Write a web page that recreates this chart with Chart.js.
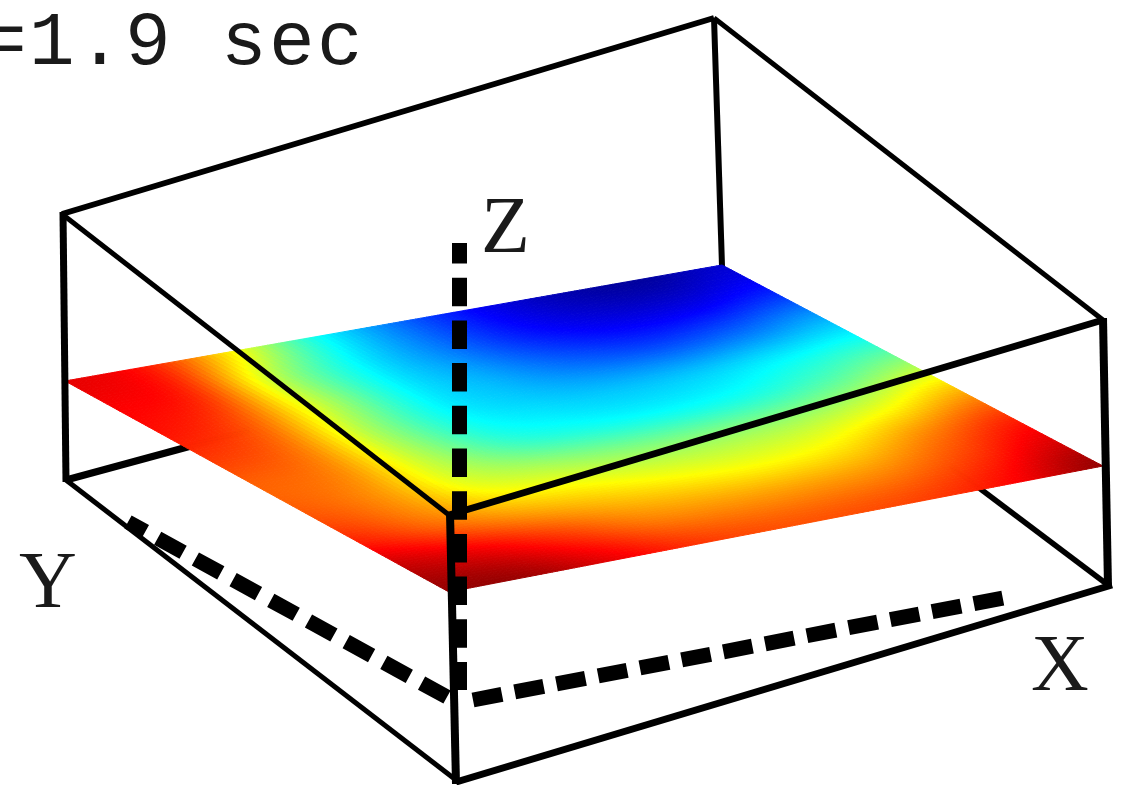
<!DOCTYPE html>
<html><head><meta charset="utf-8">
<script src="https://cdn.jsdelivr.net/npm/chart.js@4/dist/chart.umd.min.js"></script>
<style>html,body{margin:0;padding:0;background:#fff;overflow:hidden}canvas{display:block;filter:blur(0.4px)}</style>
</head><body><canvas id="c" width="1127" height="785"></canvas>
<script>
// Picture-plane endpoints of the box edges [x0,y0,x1,y1,width]
const backEdges = [[714,18,722,266,6],[66,480,250,430,7],[1108,585,950,466,5.5]];
const frontEdges = [
  [62,214,714,18,6],[714,18,1103,320,5],[62,214,449,515,5],[449,515,1103,320,7],
  [63,212,66,482,7],[1103,318,1108,587,8],[450,513,456,784,8],
  [66,480,456,780,5],[456,782,1112,585,7]
];
const axisZ = [459.5,243,459.5,690];
const axisX = [473,700,1003,598];
const axisY = [447,697,128,522];
const surfaceCorners = {L:[65,381],T:[722,265],R:[1103,466],B:[449,592]};
const labels = [
  {text:'=1.9 sec',x:-19,y:64,font:'76px "Liberation Mono"',spacing:'2.4px'},
  {text:'Z',x:481,y:252,font:'80px "Liberation Serif"',spacing:'0px'},
  {text:'Y',x:19,y:607,font:'80px "Liberation Serif"',spacing:'0px'},
  {text:'X',x:1031,y:690,font:'80px "Liberation Serif"',spacing:'0px'}
];
// Colour-mapped surface value: rows front edge -> back edge, columns B/L side -> R/T side
const row0 = [.98,.97,.90,.83,.80,.80,.82,.88,.98];
const row1 = [.93,.89,.82,.75,.73,.73,.75,.82,.91];
const row2 = [.84,.77,.70,.66,.63,.62,.65,.74,.83];
const row3 = [.79,.73,.60,.55,.52,.52,.54,.60,.70];
const row4 = [.78,.74,.56,.43,.39,.38,.40,.46,.54];
const row5 = [.82,.76,.54,.38,.33,.31,.32,.36,.40];
const row6 = [.86,.79,.56,.37,.29,.22,.19,.22,.28];
const row7 = [.88,.83,.56,.37,.25,.15,.10,.10,.15];
const row8 = [.90,.85,.64,.40,.24,.12,.05,.03,.08];
const grid = [row0,row1,row2,row3,row4,row5,row6,row7,row8];

function jet(v){
  const c=t=>Math.round(255*Math.max(0,Math.min(1,t)));
  return `rgb(${c(Math.min(4*v-1.5,-4*v+4.5))},${c(Math.min(4*v-.5,-4*v+3.5))},${c(Math.min(4*v+.5,-4*v+2.5))})`;
}
function place(s,t){
  const {L,T,R,B}=surfaceCorners;
  return {x:(1-s)*(1-t)*B[0]+s*(1-t)*R[0]+(1-s)*t*L[0]+s*t*T[0],
          y:(1-s)*(1-t)*B[1]+s*(1-t)*R[1]+(1-s)*t*L[1]+s*t*T[1]};
}
function cr(a,b,c,d,u){return .5*(2*b+(c-a)*u+(2*a-5*b+4*c-d)*u*u+(3*b-a-3*c+d)*u*u*u);}
function valueAt(s,t){
  const n=grid.length-1,m=grid[0].length-1,fi=Math.min(t*n,n-1e-6),fj=Math.min(s*m,m-1e-6);
  const i=Math.floor(fi),j=Math.floor(fj),u=fi-i,w=fj-j;
  const g=(a,b)=>grid[Math.max(0,Math.min(n,a))][Math.max(0,Math.min(m,b))];
  const r=[-1,0,1,2].map(k=>cr(g(i+k,j-1),g(i+k,j),g(i+k,j+1),g(i+k,j+2),w));
  return cr(r[0],r[1],r[2],r[3],u);
}
const seg=(e,w,extra={})=>Object.assign({type:'line',data:[{x:e[0],y:e[1]},{x:e[2],y:e[3]}],
  borderColor:'#000',borderWidth:w,pointRadius:0,tension:0,fill:false,borderCapStyle:'butt',borderJoinStyle:'miter'},extra);

const nodes=[];
grid.forEach((r,i)=>r.forEach((v,j)=>{const p=place(j/(r.length-1),i/(grid.length-1));nodes.push({x:p.x,y:p.y,v});}));

// Chart.js draws the first dataset on top, so the list runs front to back
const datasets=[
  seg(axisX,15,{borderDash:[29.5,13]}),
  seg(axisY,15,{borderDash:[29,14]}),
  seg(axisZ,15,{borderDash:[28.5,14.2],borderDashOffset:8}),
  ...frontEdges.map(e=>seg(e,e[4])),
  {type:'scatter',label:'surface',data:nodes,pointRadius:0,showLine:false},
  ...backEdges.map(e=>seg(e,e[4]))
];
const surfaceIndex=datasets.findIndex(d=>d.label==='surface');

const painter={id:'painter',
  afterDatasetDraw(chart,args){
    if(args.index!==surfaceIndex)return;
    const ctx=chart.ctx,X=chart.scales.x,Y=chart.scales.y,N=120;
    const pt=(s,t)=>{const p=place(s,t);return [X.getPixelForValue(p.x),Y.getPixelForValue(p.y)];};
    ctx.save();ctx.lineWidth=1;
    for(let i=0;i<N;i++)for(let j=0;j<N;j++){
      const s0=j/N,s1=(j+1)/N,t0=i/N,t1=(i+1)/N,col=jet(valueAt((s0+s1)/2,(t0+t1)/2));
      const a=pt(s0,t0),b=pt(s1,t0),c=pt(s1,t1),d=pt(s0,t1);
      ctx.fillStyle=col;ctx.strokeStyle=col;
      ctx.beginPath();ctx.moveTo(a[0],a[1]);ctx.lineTo(b[0],b[1]);ctx.lineTo(c[0],c[1]);ctx.lineTo(d[0],d[1]);ctx.closePath();
      ctx.fill();ctx.stroke();
    }
    ctx.restore();
  },
  afterDraw(chart){
    const ctx=chart.ctx,X=chart.scales.x,Y=chart.scales.y;
    ctx.save();ctx.fillStyle='#1a1a1a';ctx.textBaseline='alphabetic';ctx.textAlign='left';
    labels.forEach(l=>{ctx.font=l.font;ctx.letterSpacing=l.spacing;ctx.fillText(l.text,X.getPixelForValue(l.x),Y.getPixelForValue(l.y));});
    ctx.restore();
  }
};
new Chart(document.getElementById('c'),{
  type:'scatter',
  data:{datasets},
  plugins:[painter],
  options:{responsive:false,animation:false,layout:{padding:0},
    plugins:{legend:{display:false},title:{display:false},tooltip:{enabled:false}},
    scales:{x:{type:'linear',min:0,max:1127,display:false},y:{type:'linear',min:0,max:785,reverse:true,display:false}}}
});
</script></body></html>
